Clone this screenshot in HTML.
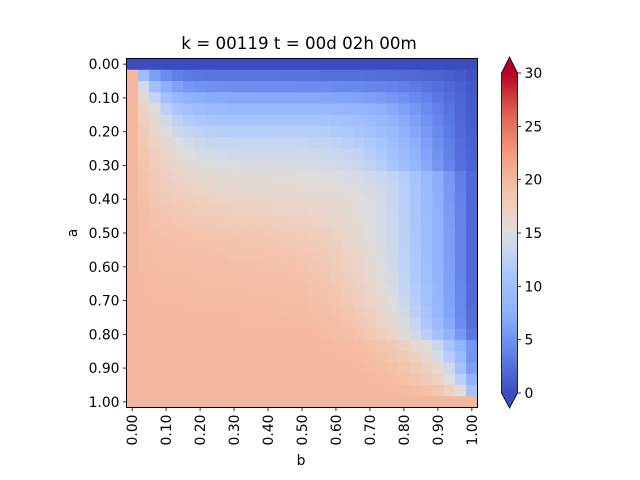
<!DOCTYPE html>
<html><head><meta charset="utf-8"><style>
body{margin:0;background:#fff;}
svg{display:block;font-family:"DejaVu Sans","Liberation Sans",sans-serif;}
</style></head><body>
<svg id="chart" width="640" height="480" xmlns="http://www.w3.org/2000/svg">
<text x="299" y="49" font-size="16.7" text-anchor="middle">k = 00119 t = 00d 02h 00m</text>
<g id="cells"></g>
<rect x="126.5" y="58.5" width="351" height="349" fill="none" stroke="#000" stroke-width="1"/>
<g id="yticks"></g>
<g id="xticks"></g>
<text x="301" y="465" font-size="13.9" text-anchor="middle">b</text>
<text x="77" y="233" font-size="13.9" text-anchor="middle" transform="rotate(-90 77 233)">a</text>
<defs><linearGradient id="cg" x1="0" y1="1" x2="0" y2="0"></linearGradient></defs>
<g id="cbar"></g>
</svg>
<script>
const rowsA = [];
const colsB = [];
const yTickLabels = ["0.00","0.10","0.20","0.30","0.40","0.50","0.60","0.70","0.80","0.90","1.00"];
const xTickLabels = ["0.00","0.10","0.20","0.30","0.40","0.50","0.60","0.70","0.80","0.90","1.00"];
const cbarTicks = [0,5,10,15,20,25,30];
const vmin = 0, vmax = 30;
const values = [
[0,0,0,0,0,0,0,0,0,0,0,0,0,0,0,0,0,0,0,0,0,0,0,0,0,0,0,0,0,0,0],
[20,10,6,4.5,3.6,3.2,3,2.9,2.8,2.8,2.8,2.8,2.8,2.8,2.7,2.7,2.7,2.6,2.6,2.5,2.5,2.4,2.3,2.2,2.1,2,1.8,1.6,1.3,1,0.5],
[20,14,10,7.5,6.2,5.5,5.1,4.9,4.8,4.7,4.7,4.7,4.6,4.6,4.6,4.5,4.5,4.5,4.4,4.3,4.2,4.1,4,3.8,3.5,3.2,2.8,2.4,1.9,1.4,0.8],
[20,16,13,10.2,8.8,8,7.5,7.2,7,6.9,6.9,6.9,6.9,6.9,6.9,6.9,6.9,6.8,6.7,6.6,6.4,6.2,5.9,5.5,5,4.4,3.8,3.1,2.4,1.7,1],
[20,17,15,12.5,11,10.1,9.6,9.3,9.1,9,9,9,9,9,9,9,9,8.9,8.8,8.6,8.4,8.1,7.6,7,6.3,5.5,4.6,3.7,2.8,1.9,1.1],
[20,17.5,16,14,12.6,11.8,11.3,11,10.8,10.7,10.7,10.7,10.8,10.8,10.8,10.8,10.8,10.7,10.5,10.2,9.9,9.4,8.8,8,7.1,6.1,5.1,4,3,2,1.2],
[20,18,16.5,15,13.8,13,12.6,12.3,12.1,12,12,12,12.1,12.1,12.1,12.1,12,11.9,11.7,11.4,11,10.5,9.8,8.9,7.9,6.8,5.6,4.4,3.2,2.1,1.3],
[20,18.3,17,15.8,14.8,14.1,13.6,13.3,13.2,13.1,13.1,13.1,13.1,13.1,13.1,13.1,13,12.9,12.7,12.4,12,11.4,10.7,9.8,8.7,7.4,6.1,4.8,3.5,2.3,1.4],
[20,18.5,17.5,16.5,15.6,15,14.5,14.2,14,13.9,13.9,13.9,13.9,13.9,13.9,13.8,13.8,13.6,13.4,13.1,12.7,12.1,11.4,10.4,9.3,8,6.6,5.1,3.7,2.4,1.5],
[20,18.8,17.8,17,16.3,15.7,15.3,15,14.8,14.7,14.6,14.6,14.6,14.6,14.6,14.5,14.4,14.3,14.1,13.8,13.4,12.8,12,11,9.8,8.4,6.9,5.4,3.9,2.5,1.6],
[20,19,18,17.3,16.8,16.4,16.1,15.9,15.7,15.6,15.5,15.5,15.4,15.3,15.3,15.2,15.1,15,14.8,14.6,14.4,14,13.6,12.9,12,10.8,9.1,7.3,5.5,3.6,2],
[20,19,18,17.8,17.3,17,16.8,16.5,16.3,16.2,16,16,16,15.8,15.8,15.6,15.5,15.4,15.2,15,14.8,14.4,14,13.2,12.3,11,9.3,7.5,5.6,3.7,2],
[20,19.2,18.5,18,17.8,17.5,17.3,17,16.9,16.8,16.7,16.6,16.5,16.4,16.3,16.2,16,15.9,15.7,15.5,15.2,14.7,14.2,13.4,12.4,11,9.4,7.6,5.7,3.8,2],
[20,19.3,18.8,18.4,18.2,18,17.8,17.6,17.4,17.3,17.2,17.1,17,16.9,16.8,16.7,16.5,16.3,16.1,15.8,15.4,14.9,14.3,13.5,12.5,11.1,9.5,7.7,5.8,3.9,2],
[20,19.4,19,18.7,18.5,18.3,18.2,18,17.9,17.8,17.7,17.6,17.5,17.4,17.3,17.1,17,16.7,16.4,16,15.6,15,14.4,13.6,12.6,11.2,9.6,7.8,5.9,3.9,2],
[20,19.4,19.2,19,18.9,18.8,18.7,18.6,18.5,18.4,18.3,18.2,18.1,18,17.9,17.7,17.5,17.2,16.8,16.4,15.8,15.2,14.5,13.7,12.6,11.3,9.7,7.9,6,4,2],
[20,19.5,19.3,19.2,19.1,19,19,18.9,18.8,18.8,18.7,18.6,18.5,18.4,18.3,18.1,17.9,17.6,17.2,16.7,16.1,15.4,14.6,13.7,12.6,11.3,9.7,7.9,6,4,2],
[20,19.6,19.4,19.3,19.3,19.2,19.2,19.1,19.1,19,19,18.9,18.8,18.7,18.6,18.4,18.2,17.9,17.5,17,16.4,15.6,14.8,13.8,12.7,11.4,9.8,8,6,4,2],
[20,19.6,19.5,19.4,19.4,19.4,19.3,19.3,19.3,19.2,19.2,19.1,19.1,19,18.9,18.7,18.5,18.2,17.8,17.3,16.7,15.9,15,14,12.8,11.5,9.9,8.1,6.1,4.1,2],
[20,19.7,19.6,19.5,19.5,19.5,19.4,19.4,19.4,19.4,19.3,19.3,19.2,19.2,19.1,19,18.8,18.5,18.1,17.6,17,16.2,15.3,14.2,13,11.6,10,8.2,6.2,4.1,2],
[20,19.7,19.6,19.6,19.6,19.6,19.5,19.5,19.5,19.5,19.5,19.4,19.4,19.3,19.3,19.2,19,18.8,18.4,17.9,17.3,16.5,15.6,14.5,13.2,11.8,10.2,8.3,6.3,4.2,2.1],
[20,19.8,19.7,19.7,19.7,19.7,19.6,19.6,19.6,19.6,19.6,19.5,19.5,19.5,19.4,19.3,19.2,19,18.7,18.2,17.6,16.9,16,14.9,13.6,12.1,10.4,8.5,6.4,4.3,2.1],
[20,19.8,19.8,19.8,19.8,19.7,19.7,19.7,19.7,19.7,19.7,19.6,19.6,19.6,19.5,19.5,19.4,19.2,19,18.6,18,17.3,16.4,15.3,14,12.5,10.8,8.8,6.6,4.4,2.2],
[20,19.8,19.8,19.8,19.8,19.8,19.8,19.8,19.8,19.8,19.7,19.7,19.7,19.7,19.7,19.6,19.5,19.4,19.2,18.9,18.4,17.8,16.9,15.9,14.6,13.1,11.3,9.3,7,4.7,2.4],
[20,19.8,19.8,19.8,19.8,19.8,19.8,19.8,19.8,19.8,19.8,19.8,19.8,19.8,19.8,19.8,19.7,19.6,19.4,19.2,18.8,18.3,17.5,16.6,15.4,14,12.3,10.3,8,5.5,3],
[20,19.8,19.8,19.8,19.8,19.8,19.8,19.8,19.8,19.8,19.8,19.8,19.8,19.8,19.8,19.8,19.8,19.7,19.6,19.6,19.4,19.1,18.7,18.1,17.3,16.2,15,13.5,11,8.2,5.5],
[20,19.8,19.8,19.8,19.8,19.8,19.8,19.8,19.8,19.8,19.8,19.8,19.8,19.8,19.8,19.8,19.8,19.8,19.7,19.7,19.6,19.4,19.1,18.7,18.1,17.2,16,14.5,12,9.5,5.3],
[20,19.8,19.8,19.8,19.8,19.8,19.8,19.8,19.8,19.8,19.8,19.8,19.8,19.8,19.8,19.8,19.8,19.8,19.8,19.8,19.7,19.6,19.4,19.1,18.7,18,17,16,14,10.5,6],
[20,19.8,19.8,19.8,19.8,19.8,19.8,19.8,19.8,19.8,19.8,19.8,19.8,19.8,19.8,19.8,19.8,19.8,19.8,19.8,19.8,19.7,19.6,19.4,19.1,18.7,18,17,15,12.5,8],
[20,19.8,19.8,19.8,19.8,19.8,19.8,19.8,19.8,19.8,19.8,19.8,19.8,19.8,19.8,19.8,19.8,19.8,19.8,19.8,19.8,19.8,19.8,19.7,19.6,19.4,19.1,18.5,17,15,10.5],
[20,20,20,20,20,20,20,20,20,20,20,20,20,20,20,20,20,20,20,20,20,20,20,20,20,20,20,20,20,20,20]
];
for (let i = 0; i < values.length; i++) rowsA.push(i / 30);
for (let j = 0; j < values[0].length; j++) colsB.push(j / 30);

const NS = "http://www.w3.org/2000/svg";
const stops = [[0,59,76,192],[0.125,98,130,234],[0.25,141,176,254],[0.375,170,199,253],[0.4375,197,213,242],[0.5,221,221,221],[0.5625,236,211,197],[0.625,244,196,173],[0.75,244,154,123],[0.875,222,96,77],[1,180,4,38]];
function cmap(v){
  let t = Math.max(0, Math.min(1, (v - vmin) / (vmax - vmin)));
  for (let k = 1; k < stops.length; k++) {
    if (t <= stops[k][0]) {
      const a = stops[k-1], b = stops[k], f = (t - a[0]) / (b[0] - a[0]);
      return "rgb(" + [1,2,3].map(c => Math.round(a[c] + f * (b[c] - a[c]))).join(",") + ")";
    }
  }
  return "rgb(180,4,38)";
}
const X0 = 126.5, Y0 = 58.5, W = 351, H = 349;
const nR = rowsA.length, nC = colsB.length;
const cw = W / nC, ch = H / nR;
function xPos(b){ return X0 + (b * 30 + 0.5) * cw; }
function yPos(a){ return Y0 + (a * 30 + 0.5) * ch; }
function mk(tag, attrs){ const e = document.createElementNS(NS, tag); for (const k in attrs) e.setAttribute(k, attrs[k]); return e; }
const cells = document.getElementById("cells");
for (let i = 0; i < nR; i++) for (let j = 0; j < nC; j++) {
  const r = mk("rect", {x: (xPos(colsB[j]) - cw/2).toFixed(2), y: (yPos(rowsA[i]) - ch/2).toFixed(2), width: (cw + 0.4).toFixed(2), height: (ch + 0.4).toFixed(2), fill: cmap(values[i][j])});
  
  
  cells.appendChild(r);
}
const yt = document.getElementById("yticks");
yTickLabels.forEach((lab) => {
  const y = yPos(parseFloat(lab));
  const l = mk("line", {x1: X0 - 3.5, x2: X0, y1: y, y2: y, stroke: "#000", "stroke-width": 0.8});
  
  
  yt.appendChild(l);
  const t = mk("text", {x: X0 - 7, y: y + 5, "font-size": 13.9, "text-anchor": "end"});
  
  
  t.textContent = lab; yt.appendChild(t);
});
const xt = document.getElementById("xticks");
xTickLabels.forEach((lab) => {
  const x = xPos(parseFloat(lab));
  const yb = Y0 + H;
  const l = mk("line", {x1: x, x2: x, y1: yb, y2: yb + 3.5, stroke: "#000", "stroke-width": 0.8});
  
  
  xt.appendChild(l);
  const t = mk("text", {x: 0, y: 0, "font-size": 13.9, "text-anchor": "end", transform: "translate(" + (x + 5) + "," + (yb + 7) + ") rotate(-90)"});
  
  
  t.textContent = lab; xt.appendChild(t);
});
const cb = document.getElementById("cbar");
const grad = document.getElementById("cg");
for (let k = 0; k <= 40; k++) {
  const s = mk("stop", {offset: (k/40), "stop-color": cmap(vmin + (vmax - vmin) * k / 40)});
  grad.appendChild(s);
}
const CX = 501.5, CW = 16, CT = 73, CB = 393;
function cbY(v){ return CB - (v - vmin) / (vmax - vmin) * (CB - CT); }
const body = mk("rect", {x: CX, y: CT, width: CW, height: CB - CT, fill: "url(#cg)"});


cb.appendChild(body);
const topTri = mk("polygon", {points: CX+","+CT+" "+(CX+CW)+","+CT+" "+(CX+CW/2)+",57", fill: cmap(vmax + 1)});


cb.appendChild(topTri);
const botTri = mk("polygon", {points: CX+","+CB+" "+(CX+CW)+","+CB+" "+(CX+CW/2)+",408", fill: cmap(vmin)});


cb.appendChild(botTri);
const outline = mk("polygon", {points: CX+","+CT+" "+(CX+CW/2)+",57 "+(CX+CW)+","+CT+" "+(CX+CW)+","+CB+" "+(CX+CW/2)+",408 "+CX+","+CB, fill: "none", stroke: "#000", "stroke-width": 0.8});


cb.appendChild(outline);
cbarTicks.forEach(v => {
  const y = cbY(v);
  const l = mk("line", {x1: CX + CW, x2: CX + CW + 3.5, y1: y, y2: y, stroke: "#000", "stroke-width": 0.8});
  
  
  cb.appendChild(l);
  const t = mk("text", {x: CX + CW + 7, y: y + 5, "font-size": 13.9});
  
  
  t.textContent = String(v); cb.appendChild(t);
});
</script>
</body></html>
